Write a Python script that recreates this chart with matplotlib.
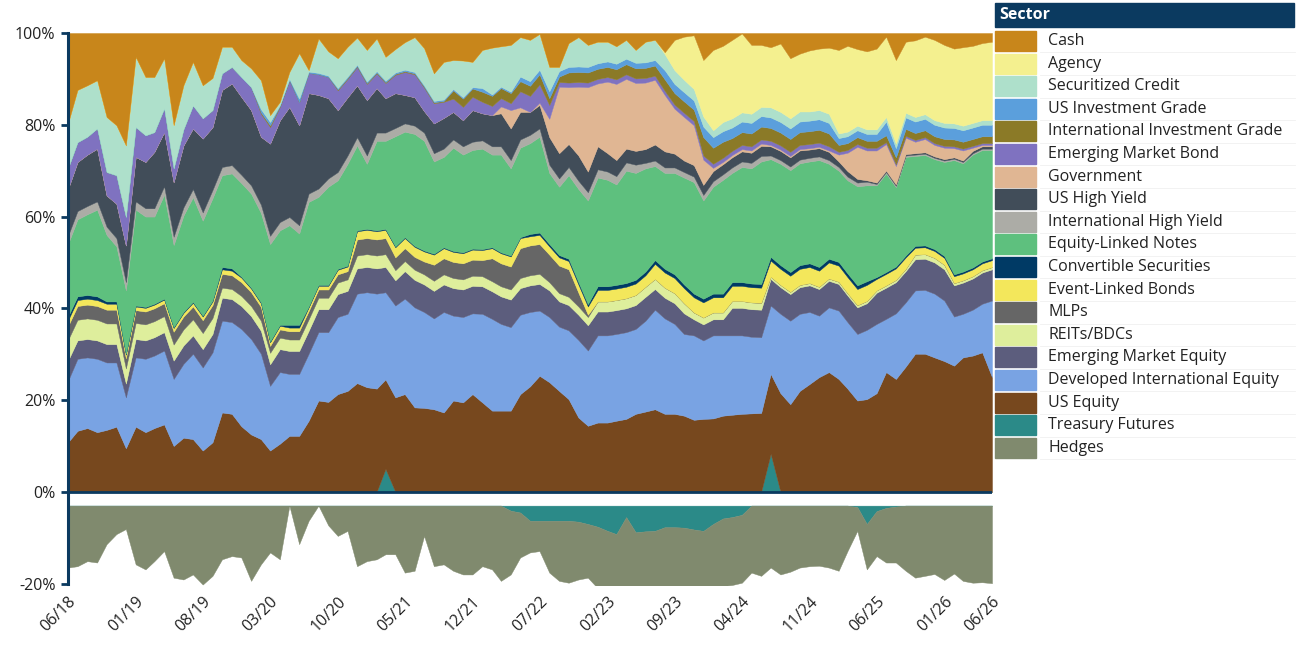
import numpy as np
import pandas as pd
import matplotlib
matplotlib.use('Agg')
import matplotlib.pyplot as plt
from matplotlib.patches import Rectangle

plt.rcParams['font.family'] = ['Open Sans', 'DejaVu Sans']

# monthly allocation (% of portfolio), 06/18 .. 06/26
months = pd.date_range('2018-06-01', '2026-06-01', freq='MS')

treasury_futures = [0, 0, 0, 0, 0, 0, 0, 0, 0, 0,
                    0, 0, 0, 0, 0, 0, 0, 0, 0, 0,
                    0, 0, 0, 0, 0, 0, 0, 0, 0, 0,
                    0, 0, 0, 5.0, 0, 0, 0, 0, 0, 0,
                    0, 0, 0, 0, 0, 0, -1.1, -1.5, -3.3, -3.3,
                    -3.3, -3.3, -3.3, -3.5, -4.0, -4.6, -5.5, -6.2, -2.5, -5.8,
                    -5.6, -5.5, -4.7, -4.7, -4.8, -5.2, -5.5, -4.0, -2.8, -2.5,
                    -2.0, 0, 0, 8.3, 0, 0, 0, 0, 0, 0,
                    0, 0, -0.3, -4.0, -1.2, -0.5, -0.2, 0, 0, 0,
                    0, 0, 0, 0, 0, 0, 0]
us_equity = [10.8, 13.3, 13.9, 13.0, 13.5, 14.2, 9.5, 14.2, 13.0, 13.9,
             14.7, 10.0, 11.8, 11.5, 9.0, 10.8, 17.3, 17.0, 14.3, 12.5,
             11.5, 9.0, 10.5, 12.2, 12.2, 15.5, 19.9, 19.6, 21.3, 22.0,
             23.7, 22.8, 22.5, 19.5, 20.6, 21.3, 18.4, 18.3, 18.0, 17.3,
             19.9, 19.5, 21.3, 19.5, 17.7, 17.7, 17.7, 21.3, 23.0, 25.3,
             23.9, 22.0, 20.2, 16.2, 14.4, 15.1, 15.1, 15.5, 15.9, 17.0,
             17.5, 18.0, 17.0, 17.0, 16.6, 15.7, 15.9, 16.0, 16.6, 16.8,
             17.0, 17.1, 17.2, 17.4, 21.5, 19.1, 22.0, 23.5, 25.0, 26.1,
             24.6, 22.5, 19.9, 20.2, 21.5, 26.1, 24.6, 27.3, 30.1, 30.1,
             29.3, 28.5, 27.5, 29.3, 29.7, 30.4, 25.0]
developed_intl_equity = [13.4, 15.7, 15.4, 16.0, 14.7, 14.0, 11.1, 15.1, 16.0, 15.8,
                         16.1, 14.6, 16.1, 18.6, 18.1, 19.6, 20.0, 20.0, 21.2, 20.8,
                         18.6, 14.1, 15.6, 13.5, 13.5, 14.6, 14.9, 15.2, 16.8, 16.8,
                         19.5, 20.7, 20.7, 19.0, 20.0, 20.8, 21.8, 20.9, 19.8, 21.9,
                         18.5, 18.6, 17.6, 19.3, 20.0, 18.9, 18.2, 17.3, 16.2, 14.2,
                         14.2, 14.0, 15.0, 16.9, 16.4, 19.0, 19.0, 18.9, 18.9, 18.5,
                         19.8, 21.7, 20.8, 19.6, 17.8, 18.4, 17.1, 18.1, 17.5, 17.3,
                         17.1, 16.7, 16.5, 14.9, 17.3, 18.2, 16.8, 15.7, 13.4, 14.1,
                         14.9, 14.5, 14.5, 15.1, 15.1, 11.6, 14.3, 14.0, 13.8, 13.9,
                         13.9, 13.2, 10.7, 9.5, 10.0, 10.6, 16.7]
em_equity = [4.4, 4.0, 4.0, 4.0, 4.0, 4.0, 3.0, 4.0, 4.0, 4.0,
             4.0, 4.0, 4.0, 4.0, 4.0, 4.0, 5.0, 5.0, 5.0, 5.0,
             5.0, 4.7, 5.0, 5.0, 5.0, 5.0, 5.0, 5.0, 5.0, 5.0,
             5.5, 5.5, 5.5, 5.5, 5.5, 6.0, 6.0, 6.0, 6.0, 6.0,
             6.0, 6.0, 6.0, 6.0, 6.0, 6.0, 6.0, 5.8, 5.8, 5.8,
             5.8, 5.5, 5.5, 5.5, 5.5, 5.2, 5.2, 5.2, 5.2, 5.2,
             5.2, 4.5, 4.5, 4.5, 4.5, 3.5, 3.5, 3.5, 3.5, 6.0,
             6.0, 6.0, 6.0, 5.8, 5.8, 5.8, 5.8, 5.8, 5.8, 5.8,
             5.8, 5.8, 5.8, 5.8, 6.8, 6.8, 6.8, 6.8, 6.8, 6.8,
             6.8, 6.8, 6.8, 6.8, 6.8, 6.8, 6.8]
reits_bdcs = [4.5, 4.5, 4.5, 4.5, 4.5, 4.5, 3.3, 3.5, 3.5, 3.5,
              3.5, 3.5, 3.5, 3.5, 3.5, 3.5, 2.2, 2.2, 2.2, 2.2,
              2.2, 2.5, 2.5, 2.5, 2.5, 2.5, 2.5, 2.5, 2.5, 2.5,
              2.8, 2.8, 2.8, 2.8, 2.2, 2.2, 2.2, 2.2, 2.2, 2.2,
              2.2, 2.2, 2.2, 2.2, 2.2, 2.2, 2.2, 2.2, 2.2, 2.2,
              1.8, 1.8, 1.8, 1.8, 1.8, 2.2, 2.2, 2.2, 2.2, 2.2,
              2.2, 2.2, 2.2, 2.2, 2.2, 1.5, 1.5, 1.5, 1.5, 1.5,
              1.5, 1.5, 1.5, 0.5, 0.5, 0.5, 0.5, 0.5, 0.5, 0.5,
              0.5, 0.5, 0.5, 0.5, 0.5, 0.5, 0.5, 0.5, 1.0, 1.0,
              1.0, 1.0, 0.5, 0.5, 0.5, 0.5, 0.5]
mlps = [3.0, 3.0, 3.0, 3.0, 3.0, 3.0, 2.2, 2.8, 2.8, 2.8,
        2.8, 2.8, 2.8, 2.8, 2.8, 2.8, 3.0, 3.0, 3.0, 3.0,
        3.0, 1.5, 1.8, 1.8, 1.8, 1.8, 1.8, 1.8, 1.8, 1.8,
        3.5, 3.5, 3.5, 3.5, 2.8, 2.8, 2.8, 2.8, 3.5, 3.5,
        3.5, 3.5, 3.5, 3.5, 5.0, 5.0, 5.0, 6.5, 6.5, 6.5,
        6.0, 6.0, 6.0, 3.0, 0.5, 0, 0, 0, 0, 0,
        0, 0, 0, 0, 0, 0, 0, 0, 0, 0,
        0, 0, 0, 0, 0, 0, 0, 0, 0, 0,
        0, 0, 0, 0, 0, 0, 0, 0, 0, 0,
        0, 0, 0, 0, 0, 0, 0]
event_linked_bonds = [1.3, 1.3, 1.3, 1.3, 1.3, 1.3, 0.8, 0.8, 0.8, 0.8,
                      0.8, 0.8, 0.8, 0.8, 0.8, 0.8, 1.0, 1.0, 1.0, 0.8,
                      0.8, 0.8, 0.8, 0.8, 0.8, 0.8, 0.8, 0.8, 1.0, 1.0,
                      1.8, 1.8, 1.8, 1.8, 2.2, 2.2, 2.2, 2.2, 2.2, 2.2,
                      2.2, 2.2, 2.2, 2.2, 2.2, 2.2, 2.2, 2.2, 2.0, 2.0,
                      1.8, 1.8, 1.8, 1.8, 1.8, 2.5, 2.5, 2.5, 2.5, 2.5,
                      2.5, 3.3, 3.3, 3.3, 3.3, 3.3, 3.3, 3.3, 3.3, 3.3,
                      3.3, 3.3, 3.3, 3.5, 3.5, 3.5, 3.5, 3.5, 3.5, 3.5,
                      3.5, 3.5, 3.5, 3.5, 2.5, 2.5, 2.5, 2.5, 1.5, 1.5,
                      1.5, 1.5, 1.5, 1.5, 1.5, 1.5, 1.5]
convertible_securities = [0.8, 0.8, 0.8, 0.8, 0.5, 0.5, 0.2, 0.2, 0.2, 0.2,
                          0.2, 0.2, 0.2, 0.2, 0.2, 0.2, 0.5, 0.5, 0.2, 0.2,
                          0.2, 0.2, 0.2, 0.6, 0.6, 0.2, 0.2, 0.2, 0.2, 0.2,
                          0.2, 0.2, 0.2, 0.2, 0.2, 0.2, 0.2, 0.2, 0.2, 0.2,
                          0.2, 0.2, 0.2, 0.2, 0.2, 0.2, 0.2, 0.2, 0.5, 0.5,
                          0.5, 0.5, 0.5, 0.5, 0.5, 0.8, 0.8, 0.8, 0.8, 0.8,
                          0.8, 0.8, 0.8, 0.8, 0.8, 0.8, 0.8, 0.8, 0.8, 0.8,
                          0.8, 0.8, 0.8, 0.8, 0.8, 0.8, 0.8, 0.8, 0.8, 0.8,
                          0.8, 0.8, 0.8, 0.8, 0.4, 0.4, 0.4, 0.4, 0.4, 0.4,
                          0.4, 0.4, 0.4, 0.4, 0.4, 0.4, 0.4]
equity_linked_notes = [15.8, 16.8, 17.6, 18.9, 14.5, 12.0, 13.8, 20.9, 19.7, 19.0,
                       22.7, 17.9, 21.0, 22.8, 20.7, 22.3, 20.0, 20.7, 20.4, 20.5,
                       19.5, 21.2, 20.6, 21.7, 19.9, 22.8, 19.2, 21.4, 19.3, 22.2,
                       18.5, 14.2, 19.5, 19.2, 24.0, 23.0, 24.4, 23.9, 20.1, 19.7,
                       22.5, 21.3, 21.5, 21.9, 20.2, 21.3, 19.0, 19.5, 19.8, 20.9,
                       15.5, 14.9, 18.2, 20.3, 22.6, 23.7, 23.2, 21.9, 24.5, 23.3,
                       22.5, 20.5, 20.9, 22.1, 23.3, 24.3, 21.4, 23.3, 24.8, 23.8,
                       25.1, 25.1, 26.7, 21.3, 22.1, 22.2, 22.2, 22.2, 23.3, 20.7,
                       19.9, 20.3, 21.6, 20.9, 20.0, 21.5, 17.3, 21.5, 19.6, 19.7,
                       19.6, 20.5, 24.9, 23.6, 24.6, 24.3, 23.6]
intl_high_yield = [1.8, 1.8, 1.8, 1.8, 1.8, 1.8, 1.8, 1.8, 1.8, 1.8,
                   1.8, 1.8, 1.8, 1.8, 1.8, 1.8, 1.8, 1.8, 1.8, 1.8,
                   1.8, 1.8, 1.8, 1.8, 1.8, 1.8, 1.8, 1.8, 1.8, 1.8,
                   1.8, 1.8, 1.8, 1.8, 1.8, 1.8, 1.8, 1.8, 1.8, 1.8,
                   1.8, 1.8, 1.8, 1.8, 1.8, 1.8, 1.8, 1.8, 1.8, 1.8,
                   1.8, 1.8, 1.8, 1.8, 1.8, 1.8, 1.8, 1.8, 1.8, 1.8,
                   1.2, 1.2, 1.2, 1.2, 1.2, 1.2, 1.2, 1.2, 1.2, 1.2,
                   1.2, 1.2, 1.2, 0.8, 0.8, 0.8, 0.8, 0.8, 0.8, 0.8,
                   0.8, 0.8, 0.8, 0.8, 0.3, 0.3, 0.3, 0.3, 0.3, 0.3,
                   0.3, 0.3, 0.3, 0.3, 0.3, 0.3, 0.3]
us_high_yield = [10.2, 10.7, 11.2, 11.5, 6.8, 7.5, 8.0, 9.7, 10.1, 12.3,
                 11.8, 11.9, 13.5, 13.2, 16.1, 13.7, 16.8, 17.8, 17.0, 16.4,
                 14.8, 20.1, 22.2, 24.0, 21.8, 21.9, 20.4, 17.5, 13.5, 12.7,
                 11.3, 12.1, 9.7, 7.5, 7.6, 6.2, 6.2, 4.7, 6.5, 6.7,
                 6.0, 5.7, 6.9, 5.9, 6.8, 7.2, 6.9, 6.0, 5.0, 5.1,
                 6.0, 5.5, 5.0, 5.5, 4.5, 5.0, 4.0, 3.5, 3.0, 3.0,
                 3.0, 3.5, 3.5, 3.0, 2.5, 2.5, 2.2, 2.2, 2.2, 2.2,
                 2.2, 2.2, 2.2, 2.0, 2.0, 2.0, 2.0, 1.8, 1.8, 1.8,
                 1.2, 1.2, 0.8, 0.3, 0.3, 0.3, 0.3, 0.3, 0.3, 0.3,
                 0.3, 0.3, 0.3, 0.3, 0.5, 0.5, 0.5]
government = [0, 0, 0, 0, 0, 0, 0, 0, 0, 0,
              0, 0, 0, 0, 0, 0, 0, 0, 0, 0,
              0, 0, 0, 0, 0, 0, 0, 0, 0, 0,
              0, 0, 0, 0, 0, 0, 0, 0, 0, 0,
              0, 0, 0, 0, 0, 1.5, 4.0, 1.0, 0.0, 0.5,
              4.0, 14.5, 12.4, 15.0, 18.4, 13.7, 15.6, 16.6, 15.2, 14.8,
              14.5, 14.1, 12.3, 9.8, 9.5, 8.7, 5.5, 0.7, 0.5, 0.5,
              0.5, 0.5, 0.5, 0.3, 0.3, 0.3, 0.3, 0.3, 0.3, 0.3,
              1.5, 4.0, 7.0, 6.5, 7.0, 5.8, 4.0, 3.6, 2.5, 2.9,
              2.5, 2.5, 2.0, 2.2, 0.7, 0.3, 0.3]
em_bond = [4.5, 4.3, 3.9, 4.4, 5.1, 6.2, 6.2, 6.5, 5.8, 4.3,
           5.2, 3.0, 3.5, 5.0, 4.4, 3.7, 3.6, 3.6, 4.3, 5.0,
           5.0, 3.6, 2.9, 5.8, 5.0, 4.4, 4.5, 4.6, 4.3, 4.0,
           4.0, 3.5, 3.2, 3.3, 4.0, 5.0, 5.0, 5.1, 4.4, 3.5,
           2.9, 2.9, 2.9, 2.5, 2.0, 1.8, 1.5, 3.5, 3.5, 4.0,
           3.0, 1.0, 1.0, 1.0, 1.0, 1.0, 1.0, 1.0, 1.0, 1.0,
           1.0, 0.9, 0.9, 0.9, 0.9, 0.9, 0.9, 0.9, 0.9, 0.9,
           0.9, 0.9, 0.9, 0.9, 0.9, 0.9, 0.9, 0.9, 0.9, 0.9,
           0.6, 0.6, 0.6, 0.6, 0.6, 0.4, 0.4, 0.4, 0.4, 0.4,
           0.4, 0.4, 0.4, 0.4, 0.4, 0.4, 0.4]
intl_inv_grade = [0, 0, 0, 0, 0, 0, 0, 0, 0, 0,
                  0, 0, 0, 0, 0, 0, 0, 0, 0, 0,
                  0.3, 0.4, 0.2, 0, 0, 0, 0, 0, 0.2, 0.2,
                  0.2, 0.2, 0.2, 0.2, 0.2, 0.2, 0.2, 0.2, 0.2, 0.2,
                  1.8, 1.8, 1.8, 2.2, 2.2, 2.2, 2.2, 2.2, 2.2, 2.2,
                  1.5, 1.2, 2.2, 2.2, 2.2, 2.2, 2.2, 2.2, 2.2, 2.2,
                  2.2, 2.2, 2.5, 2.5, 2.5, 2.5, 4.0, 3.5, 3.5, 2.8,
                  2.8, 2.8, 2.8, 2.8, 2.8, 2.8, 2.8, 2.8, 2.8, 2.8,
                  1.5, 1.5, 1.5, 1.5, 1.5, 1.5, 1.5, 1.5, 1.5, 1.5,
                  1.5, 1.5, 1.5, 1.5, 1.5, 1.5, 1.5]
us_inv_grade = [0, 0, 0, 0, 0, 0, 0, 0, 0, 0,
                0, 0, 0, 0, 0, 0, 0, 0, 0, 0,
                0.7, 0.7, 0.2, 0.3, 0.8, 0.3, 0.3, 0.3, 0.3, 0.3,
                0.3, 0.3, 0.3, 0.3, 0.3, 0.3, 0.3, 0.3, 0.3, 0.3,
                0.3, 0.3, 0.3, 0.8, 0.3, 0.3, 0.3, 1.0, 1.0, 1.0,
                1.5, 1.2, 1.2, 1.2, 1.2, 1.2, 1.2, 1.2, 1.2, 1.2,
                1.2, 1.2, 2.0, 2.0, 2.0, 2.0, 2.3, 2.3, 2.3, 2.3,
                2.3, 2.3, 2.3, 2.3, 2.3, 2.3, 2.3, 2.3, 2.3, 2.3,
                1.5, 1.5, 1.5, 1.5, 1.5, 3.0, 2.0, 2.5, 2.5, 2.5,
                2.5, 2.5, 2.5, 2.5, 2.5, 2.5, 2.5]
securitized_credit = [9.8, 11.4, 11.2, 10.5, 12.0, 10.9, 15.6, 15.3, 12.7, 12.0,
                      10.9, 9.4, 9.6, 9.5, 7.2, 7.0, 5.8, 4.4, 3.7, 4.1,
                      6.3, 1.5, 0.7, 1.5, 9.9, 0.3, 7.5, 5.3, 6.5, 6.5,
                      5.9, 6.9, 7.1, 5.2, 5.1, 6.0, 7.6, 8.1, 6.0, 8.2,
                      6.3, 8.0, 5.5, 8.3, 10.2, 8.8, 10.2, 8.6, 9.0, 7.8,
                      5.3, 0.9, 5.2, 6.4, 4.8, 4.7, 4.3, 3.8, 4.1, 2.8,
                      4.5, 4.4, 3.5, 3.0, 2.7, 2.5, 2.2, 1.5, 2.0, 2.0,
                      2.0, 2.0, 2.0, 2.2, 2.2, 2.2, 2.2, 2.0, 2.0, 2.0,
                      1.0, 1.0, 1.0, 1.0, 1.0, 1.0, 1.0, 1.0, 1.0, 1.0,
                      1.0, 1.0, 1.0, 1.0, 1.0, 1.0, 1.0]
agency = [0, 0, 0, 0, 0, 0, 0, 0, 0, 0,
          0, 0, 0, 0, 0, 0, 0, 0, 0, 0,
          0, 0, 0, 0, 0, 0, 0, 0, 0, 0,
          0, 0, 0, 0, 0, 0, 0, 0, 0, 0,
          0, 0, 0, 0, 0, 0, 0, 0, 0, 0,
          0, 0, 0, 0, 0, 0, 0, 0, 0, 0,
          0, 0, 0.4, 6.6, 9.4, 11.7, 12.3, 17.5, 16.6, 17.1,
          17.2, 15.0, 13.5, 13.1, 14.9, 13.1, 12.6, 13.3, 13.4, 14.4,
          18.2, 18.7, 16.7, 17.0, 17.6, 17.5, 18.2, 15.5, 16.7, 16.9,
          17.5, 17.0, 16.3, 17.1, 16.8, 16.8, 17.1]
cash = [19.7, 12.4, 11.4, 10.3, 18.3, 20.1, 24.5, 5.2, 9.6, 9.6,
        5.5, 20.1, 11.4, 6.3, 11.4, 9.8, 3.0, 3.0, 5.9, 7.7,
        10.3, 17.9, 15.0, 8.5, 4.4, 8.1, 1.2, 4.0, 5.5, 3.0,
        1.0, 3.7, 1.2, 5.2, 3.5, 2.0, 0.9, 3.3, 8.8, 6.3,
        5.9, 6.0, 6.3, 3.7, 3.2, 2.9, 2.6, 0.9, 1.5, 0.2,
        7.4, 7.4, 2.2, 0.9, 2.6, 1.9, 1.9, 2.9, 1.5, 3.7,
        1.9, 1.5, 4.2, 1.5, 0.8, 0.5, 5.9, 3.7, 2.8, 1.5,
        0.1, 2.6, 2.6, 3.1, 2.3, 5.5, 4.5, 3.8, 3.4, 3.2,
        3.7, 2.8, 3.5, 4.0, 3.4, 0.8, 5.9, 1.9, 1.6, 0.8,
        1.5, 2.6, 3.4, 3.1, 2.8, 2.2, 1.9]
hedges = [-13.5, -13.2, -12.1, -12.4, -8.4, -6.2, -5.1, -12.8, -13.9, -12.1,
          -9.9, -15.7, -16.1, -15.0, -17.2, -15.3, -11.7, -11.0, -11.3, -16.4,
          -12.8, -10.2, -11.7, 0.0, -8.4, -3.3, 0.0, -4.3, -6.6, -5.5,
          -13.2, -12.1, -11.7, -10.6, -10.6, -14.6, -14.2, -6.6, -13.2, -12.8,
          -14.2, -15.0, -15.0, -13.2, -13.9, -16.4, -13.9, -9.8, -6.9, -6.6,
          -11.3, -13.1, -13.5, -12.6, -11.7, -13.4, -12.5, -11.8, -15.5, -12.2,
          -12.4, -12.5, -13.3, -13.3, -13.2, -12.8, -12.5, -14.0, -14.7, -14.8,
          -14.8, -14.6, -15.3, -13.5, -15.0, -14.4, -13.5, -13.2, -13.1, -13.5,
          -14.2, -9.9, -5.2, -9.9, -9.8, -11.9, -12.2, -14.2, -15.7, -15.3,
          -14.9, -16.2, -14.8, -16.4, -16.8, -16.7, -16.9]

navy = '#0b3a60'
colors = {
    'Cash': '#c8861b',
    'Agency': '#f4f08f',
    'Securitized Credit': '#aee0cb',
    'US Investment Grade': '#5b9fdc',
    'International Investment Grade': '#8b7a27',
    'Emerging Market Bond': '#7f72c0',
    'Government': '#e0b693',
    'US High Yield': '#414d59',
    'International High Yield': '#acaca6',
    'Equity-Linked Notes': '#5ec07e',
    'Convertible Securities': '#003a65',
    'Event-Linked Bonds': '#f3e75b',
    'MLPs': '#666666',
    'REITs/BDCs': '#deee9c',
    'Emerging Market Equity': '#5c5d7d',
    'Developed International Equity': '#79a3e3',
    'US Equity': '#77481e',
    'Treasury Futures': '#2b8a88',
    'Hedges': '#808a6e',
}

tf = np.array(treasury_futures)
positive = [
    ('Treasury Futures', np.clip(tf, 0, None)),
    ('US Equity', us_equity),
    ('Developed International Equity', developed_intl_equity),
    ('Emerging Market Equity', em_equity),
    ('REITs/BDCs', reits_bdcs),
    ('MLPs', mlps),
    ('Event-Linked Bonds', event_linked_bonds),
    ('Convertible Securities', convertible_securities),
    ('Equity-Linked Notes', equity_linked_notes),
    ('International High Yield', intl_high_yield),
    ('US High Yield', us_high_yield),
    ('Government', government),
    ('Emerging Market Bond', em_bond),
    ('International Investment Grade', intl_inv_grade),
    ('US Investment Grade', us_inv_grade),
    ('Securitized Credit', securitized_credit),
    ('Agency', agency),
    ('Cash', cash),
]
negative = [
    ('Treasury Futures', np.clip(tf, None, 0)),
    ('Hedges', hedges),
]

fig = plt.figure(figsize=(13, 6.53), dpi=100)
ax = fig.add_axes([68/1300, 1-585/653, (992-68)/1300, (585-33)/653])

base = np.zeros(len(months))
for name, vals in positive:
    top = base + np.asarray(vals)
    ax.fill_between(months, base, top, facecolor=colors[name], edgecolor=colors[name], lw=0.3)
    base = top

# the short side hangs below a small gap under zero
base = np.full(len(months), -3.0)
for name, vals in negative:
    top = base + np.asarray(vals)
    ax.fill_between(months, base, top, facecolor=colors[name], edgecolor=colors[name], lw=0.3)
    base = top

ax.axhline(0, color=navy, lw=2, zorder=5)
ax.set_xlim(months[0], months[-1])
ax.set_ylim(-20.3, 100)
for s in ['top', 'right', 'bottom']:
    ax.spines[s].set_visible(False)
ax.spines['left'].set_color(navy)
ax.spines['left'].set_linewidth(2.2)
ax.spines['left'].set_bounds(-20, 100)
ax.spines['left'].set_zorder(6)
ax.set_yticks([-20, 0, 20, 40, 60, 80, 100])
ax.set_yticklabels(['-20%', '0%', '20%', '40%', '60%', '80%', '100%'])
ax.tick_params(axis='y', length=5, width=2, color=navy, labelsize=11.5, labelcolor='#222222', pad=4)
ticks = list(months[::7]) + [months[-1]]
ax.set_xticks(ticks)
ax.set_xticklabels([t.strftime('%m/%y') for t in ticks])
ax.tick_params(axis='x', length=0, labelsize=11.5, labelcolor='#222222', pad=6)
for lab in ax.get_xticklabels():
    lab.set_rotation(45)
    lab.set_ha('right')
    lab.set_rotation_mode('anchor')

# legend table, laid out in pixel coordinates
lax = fig.add_axes([0, 0, 1, 1])
lax.set_xlim(0, 1300)
lax.set_ylim(653, 0)
lax.axis('off')
lax.add_patch(Rectangle((995, 3), 299, 24, color=navy))
lax.text(999, 15, 'Sector', color='white', fontsize=11.5, fontweight='bold', va='center')
for i, name in enumerate(colors):
    yc = 41 + 22.6 * i
    lax.add_patch(Rectangle((995, yc - 10), 41, 20, color=colors[name]))
    lax.plot([1040, 1295], [yc + 11.3, yc + 11.3], color='#f0f0f0', lw=0.6)
    lax.text(1048, yc, name, fontsize=11.5, color='#222222', va='center')

fig.savefig('out.png', dpi=100)
